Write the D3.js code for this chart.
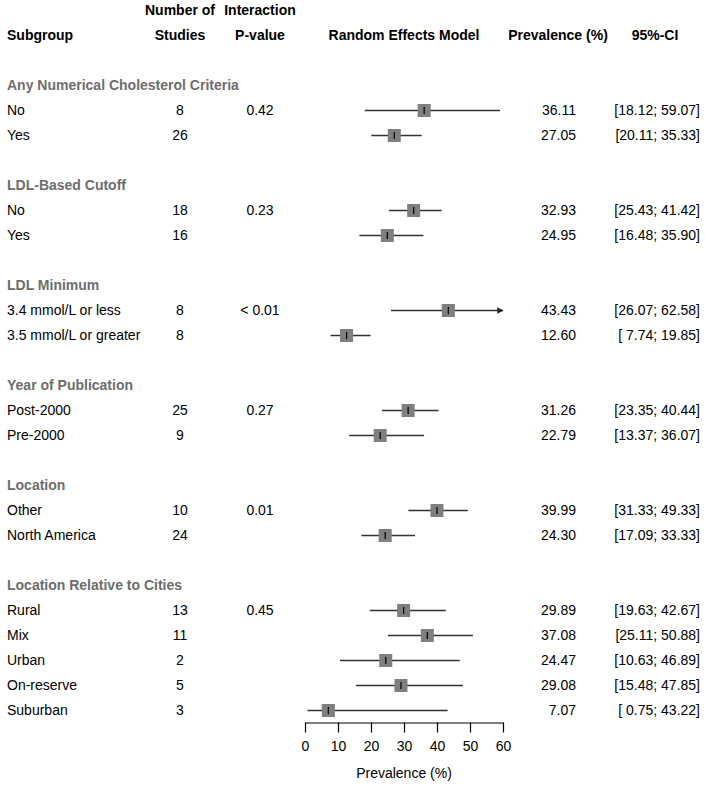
<!DOCTYPE html>
<html>
<head>
<meta charset="utf-8">
<script src="https://cdn.jsdelivr.net/npm/d3@7"></script>
<style>
  html, body { margin: 0; padding: 0; background: #fff; }
  svg text { font-family: "Liberation Sans", Arial, Helvetica, sans-serif; }
</style>
</head>
<body>
<svg id="chart" width="705" height="789"></svg>
<script>
// ---- data ----
const groupNames = [
  "Any Numerical Cholesterol Criteria",
  "LDL-Based Cutoff",
  "LDL Minimum",
  "Year of Publication",
  "Location",
  "Location Relative to Cities"
];
const groupPValues = ["0.42", "0.23", "< 0.01", "0.27", "0.01", "0.45"];
const subgroupGroup = [0, 0, 1, 1, 2, 2, 3, 3, 4, 4, 5, 5, 5, 5, 5];
const subgroupLabels = [
  "No", "Yes",
  "No", "Yes",
  "3.4 mmol/L or less", "3.5 mmol/L or greater",
  "Post-2000", "Pre-2000",
  "Other", "North America",
  "Rural", "Mix", "Urban", "On-reserve", "Suburban"
];
const studies = [8, 26, 18, 16, 8, 8, 25, 9, 10, 24, 13, 11, 2, 5, 3];
const prevalence = [36.11, 27.05, 32.93, 24.95, 43.43, 12.60, 31.26, 22.79, 39.99, 24.30, 29.89, 37.08, 24.47, 29.08, 7.07];
const ciLower = [18.12, 20.11, 25.43, 16.48, 26.07, 7.74, 23.35, 13.37, 31.33, 17.09, 19.63, 25.11, 10.63, 15.48, 0.75];
const ciUpper = [59.07, 35.33, 41.42, 35.90, 62.58, 19.85, 40.44, 36.07, 49.33, 33.33, 42.67, 50.88, 46.89, 47.85, 43.22];
const axisTicks = [0, 10, 20, 30, 40, 50, 60];
const axisDomain = [0, 60];

// ---- layout ----
const svg = d3.select("#chart");
const x = d3.scaleLinear().domain(axisDomain).range([305, 503]);
const y = d3.scaleLinear().domain([0, 1]).range([10.5, 35.5]); // row index -> pixel

const col = { label: 7, studies: 180, pval: 260, prev: 576, ci: 700 };
const FS = 14;

// build row list
const rows = [];
let r = 3;
groupNames.forEach((g, gi) => {
  rows.push({ type: "group", row: r, label: g });
  r++;
  let first = true;
  subgroupGroup.forEach((sg, i) => {
    if (sg !== gi) return;
    rows.push({ type: "sub", row: r, i, p: first ? groupPValues[gi] : "" });
    first = false;
    r++;
  });
  r++; // blank row
});
const lastRow = r - 2;

// headers
const hdr = svg.append("g").attr("font-weight", "bold").attr("font-size", FS).attr("fill", "#000");
const h1y = y(0), h2y = y(1);
hdr.append("text").attr("x", col.studies).attr("y", h1y).attr("text-anchor", "middle").attr("dy", "0.35em").text("Number of");
hdr.append("text").attr("x", col.pval).attr("y", h1y).attr("text-anchor", "middle").attr("dy", "0.35em").text("Interaction");
hdr.append("text").attr("x", col.label).attr("y", h2y).attr("dy", "0.35em").text("Subgroup");
hdr.append("text").attr("x", col.studies).attr("y", h2y).attr("text-anchor", "middle").attr("dy", "0.35em").text("Studies");
hdr.append("text").attr("x", col.pval).attr("y", h2y).attr("text-anchor", "middle").attr("dy", "0.35em").text("P-value");
hdr.append("text").attr("x", (x(0) + x(60)) / 2).attr("y", h2y).attr("text-anchor", "middle").attr("dy", "0.35em").text("Random Effects Model");
hdr.append("text").attr("x", 558).attr("y", h2y).attr("text-anchor", "middle").attr("dy", "0.35em").text("Prevalence (%)");
hdr.append("text").attr("x", 655).attr("y", h2y).attr("text-anchor", "middle").attr("dy", "0.35em").text("95%-CI");

// group labels
svg.append("g").selectAll("text").data(rows.filter(d => d.type === "group")).join("text")
  .attr("x", col.label).attr("y", d => y(d.row)).attr("dy", "0.35em")
  .attr("font-size", FS).attr("font-weight", "bold").attr("fill", "#6e6e6e")
  .text(d => d.label);

const subs = rows.filter(d => d.type === "sub");
const fmt = d3.format(".2f");
const pad = v => { const s = fmt(v); return s.length < 5 ? " " + s : s; };

const tg = svg.append("g").attr("font-size", FS).attr("fill", "#000").style("white-space", "pre");
tg.selectAll(".lab").data(subs).join("text").attr("class", "lab")
  .attr("x", col.label).attr("y", d => y(d.row)).attr("dy", "0.35em").text(d => subgroupLabels[d.i]);
tg.selectAll(".st").data(subs).join("text").attr("class", "st")
  .attr("x", col.studies).attr("y", d => y(d.row)).attr("dy", "0.35em").attr("text-anchor", "middle").text(d => studies[d.i]);
tg.selectAll(".pv").data(subs.filter(d => d.p)).join("text").attr("class", "pv")
  .attr("x", col.pval).attr("y", d => y(d.row)).attr("dy", "0.35em").attr("text-anchor", "middle").text(d => d.p);
tg.selectAll(".pr").data(subs).join("text").attr("class", "pr")
  .attr("x", col.prev).attr("y", d => y(d.row)).attr("dy", "0.35em").attr("text-anchor", "end").text(d => fmt(prevalence[d.i]));
tg.selectAll(".ci").data(subs).join("text").attr("class", "ci")
  .attr("x", col.ci).attr("y", d => y(d.row)).attr("dy", "0.35em").attr("text-anchor", "end").attr("xml:space", "preserve")
  .text(d => "[" + pad(ciLower[d.i]) + "; " + pad(ciUpper[d.i]) + "]");

// forest marks
svg.append("defs").append("marker").attr("id", "arrow")
  .attr("viewBox", "0 0 10 10").attr("refX", 9).attr("refY", 5)
  .attr("markerWidth", 4).attr("markerHeight", 4).attr("orient", "auto")
  .append("path").attr("d", "M0,0 L10,5 L0,10 z").attr("fill", "#222");

const fg = svg.append("g");
fg.selectAll(".ciline").data(subs).join("line").attr("class", "ciline")
  .attr("x1", d => x(Math.max(axisDomain[0], ciLower[d.i])))
  .attr("x2", d => x(Math.min(axisDomain[1], ciUpper[d.i])))
  .attr("y1", d => y(d.row)).attr("y2", d => y(d.row))
  .attr("stroke", "#333").attr("stroke-width", 1.6)
  .attr("marker-end", d => ciUpper[d.i] > axisDomain[1] ? "url(#arrow)" : null);
const SQ = 13;
fg.selectAll(".sq").data(subs).join("rect").attr("class", "sq")
  .attr("x", d => x(prevalence[d.i]) - SQ / 2).attr("y", d => y(d.row) - SQ / 2)
  .attr("width", SQ).attr("height", SQ).attr("fill", "#7f7f7f");
fg.selectAll(".pt").data(subs).join("line").attr("class", "pt")
  .attr("x1", d => x(prevalence[d.i])).attr("x2", d => x(prevalence[d.i]))
  .attr("y1", d => y(d.row) - 3.5).attr("y2", d => y(d.row) + 3.5)
  .attr("stroke", "#000").attr("stroke-width", 1.2);

// axis
const axisY = y(lastRow) + 12;
const ax = svg.append("g").attr("transform", `translate(0,${axisY})`)
  .call(d3.axisBottom(x).tickValues(axisTicks).tickSize(10).tickPadding(9).tickSizeOuter(0));
ax.select(".domain").attr("stroke", "#000").attr("stroke-width", 1.2);
ax.selectAll(".tick line").attr("stroke", "#000").attr("stroke-width", 1.2);
ax.selectAll(".tick text").attr("font-size", FS).attr("fill", "#000")
  .attr("font-family", "Liberation Sans, Arial, sans-serif");

svg.append("text").attr("x", (x(0) + x(60)) / 2).attr("y", 773).attr("dy", "0.35em")
  .attr("text-anchor", "middle").attr("font-size", FS).text("Prevalence (%)");
</script>
</body>
</html>
